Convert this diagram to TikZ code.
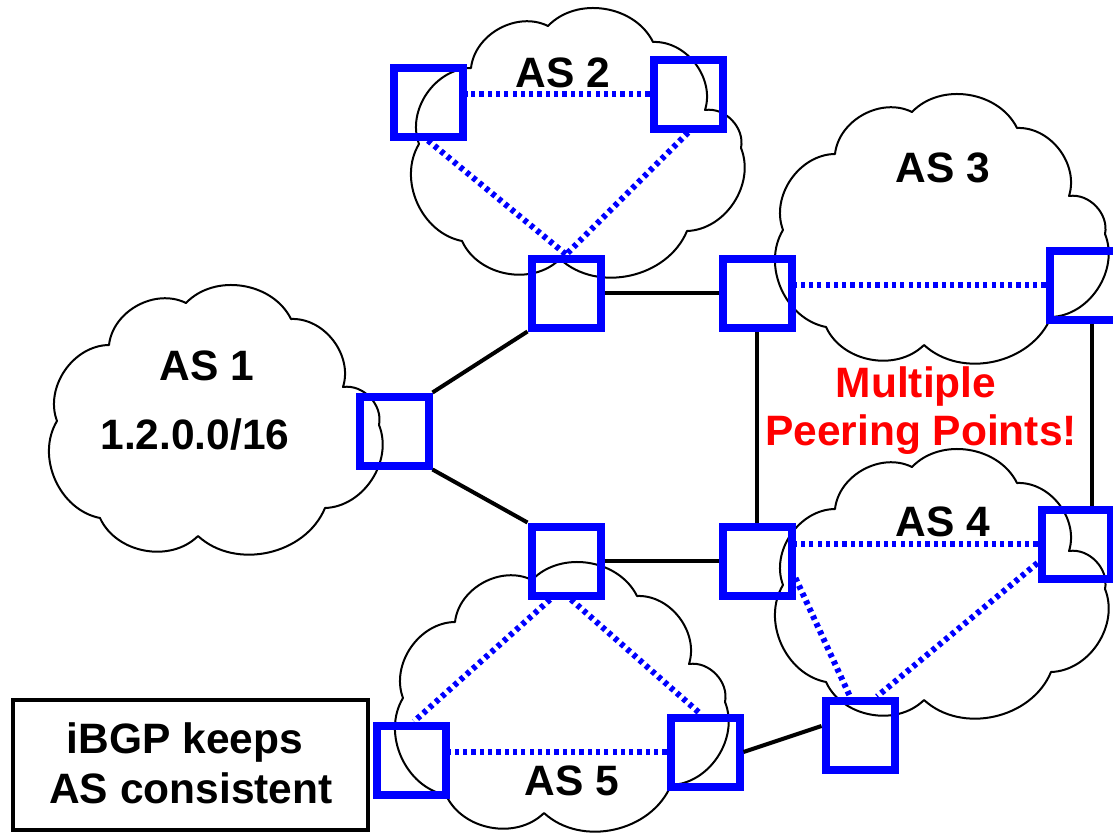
\documentclass[tikz,border=0pt]{standalone}
\usepackage{fontspec}
\setmainfont{Liberation Sans}
\begin{document}
\begin{tikzpicture}[x=1pt,y=-1pt,
  cloudline/.style={draw=black, fill=white, line width=2pt, line join=round},
  router/.style={draw=blue, line width=8pt, minimum size=69pt, inner sep=0pt, rectangle},
  ebgp/.style={black, line width=4pt},
  ibgp/.style={blue, line width=6pt, dash pattern=on 4.2pt off 4.1pt},
  lbl/.style={font=\fontsize{42.5}{50}\selectfont\bfseries, inner sep=0pt, anchor=base},
  bump/.style={bend left=55},
  ascloud/.pic={
    \path[cloudline] (63,61) to[bump] (140,19) to[bump] (245,35) to[bump] (297,103)
      to[bump] (333,141) to[bump] (279,224) to[bump] (152,252) to[bump] (54,234)
      to[bump] (11,137) to[bump] (63,61) -- cycle;
  }
]
\useasboundingbox (0,0) rectangle (1113,835);
\fill[white] (0,0) rectangle (1113,835);

% clouds
\pic at (46,284) {ascloud};
\pic at (408,7) {ascloud};
\pic at (772,93) {ascloud};
\pic at (772,448) {ascloud};
\pic at (392,561) {ascloud};

% routers
\node[router] (R2a) at (428,102) {};
\node[router] (R2b) at (688,94) {};
\node[router] (R1t) at (566,293) {};
\node[router] (R3a) at (757,293) {};
\node[router] (R3b) at (1084,285) {};
\node[router] (R1) at (394,431) {};
\node[router] (R1b) at (566,561) {};
\node[router] (R4a) at (757,561) {};
\node[router] (R4b) at (1076,544) {};
\node[router] (R4c) at (860,735) {};
\node[router] (R5b) at (705,752) {};
\node[router] (R5a) at (411,760) {};

% eBGP links
\draw[ebgp] (R1.north east) -- (R1t.south west);
\draw[ebgp] (R1.south east) -- (R1b.north west);
\draw[ebgp] (R1t.east) -- (R3a.west);
\draw[ebgp] (R1b.east) -- (R4a.west);
\draw[ebgp] (R4a.north) -- (R3a.south);
\draw[ebgp] ([xshift=8pt]R3b.south) -- ([xshift=8pt]R3b.south |- R4b.north);
\draw[ebgp] (R5b.east) -- ([yshift=9pt]R4c.west);

% iBGP links
\draw[ibgp] (R2b.west) -- (R2b.west -| R2a.east);
\draw[ibgp] (R2a.south) -- (R1t.north);
\draw[ibgp] (R2b.south) -- (R1t.north);
\draw[ibgp] (R3b.west) -- (R3b.west -| R3a.east);
\draw[ibgp] (R4b.west) -- (R4b.west -| R4a.east);
\draw[ibgp] ([yshift=-17pt]R4a.east) -- ([xshift=-10pt]R4c.north);
\draw[ibgp] ([yshift=-19pt]R4b.west) -- ([xshift=17pt]R4c.north);
\draw[ibgp] (R5b.west) -- (R5b.west -| R5a.east);
\draw[ibgp] ([xshift=-16pt]R1b.south) -- ([xshift=3pt]R5a.north);
\draw[ibgp] ([xshift=5pt]R1b.south) -- ([xshift=-5pt]R5b.north);

% labels
\node[lbl] (l1) at (207,380) {AS 1};
\node[lbl] (l1p) at (195,449) {1.2.0.0/16};
\node[lbl] (l2) at (563,87) {AS 2};
\node[lbl] (l3) at (943,182) {AS 3};
\node[lbl] (l4) at (943,536) {AS 4};
\node[lbl] (l5) at (572,795) {AS 5};
\node[lbl, text=red] (m1) at (916,397) {Multiple};
\node[lbl, text=red] (m2) at (921,445) {Peering Points!};

% note box
\node[draw=black, line width=4pt, minimum width=355pt, minimum height=130pt, inner sep=0pt] (box) at (190.5,765) {};
\node[lbl] (b1) at (185,753) {iBGP keeps};
\node[lbl] (b2) at (191,803) {AS consistent};
\end{tikzpicture}
\end{document}
